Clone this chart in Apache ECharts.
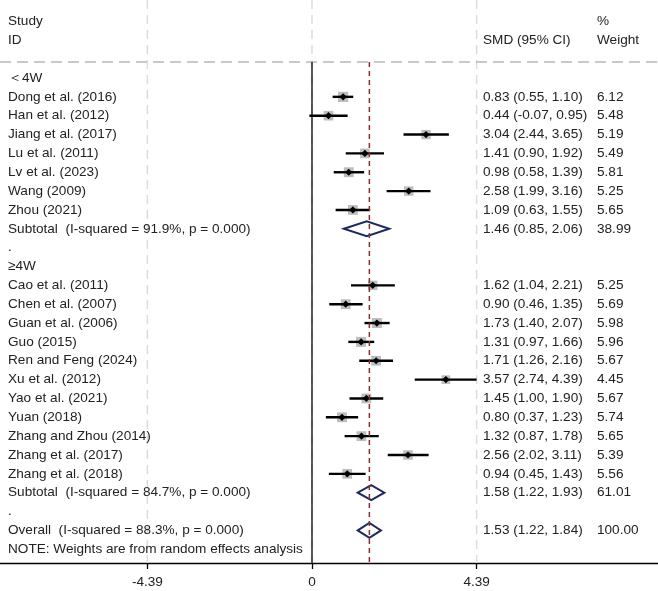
<!DOCTYPE html>
<html>
<head>
<meta charset="utf-8">
<script src="https://cdn.jsdelivr.net/npm/echarts@6/dist/echarts.min.js"></script>
<style>html,body{margin:0;padding:0;background:#fff}#c{width:658px;height:591px}</style>
</head>
<body>
<div id="c"></div>
<script>
// ---- data ----
const g1Label = "\uFF1C4W";
const g1Names = ["Dong et al. (2016)","Han et al. (2012)","Jiang et al. (2017)","Lu et al. (2011)","Lv et al. (2023)","Wang (2009)","Zhou (2021)"];
const g1Est = [0.83,0.44,3.04,1.41,0.98,2.58,1.09];
const g1Lo  = [0.55,-0.07,2.44,0.90,0.58,1.99,0.63];
const g1Hi  = [1.10,0.95,3.65,1.92,1.39,3.16,1.55];
const g1W   = [6.12,5.48,5.19,5.49,5.81,5.25,5.65];
const g1Sub = [1.46,0.85,2.06,38.99];
const g1I2 = "91.9%", g1P = "0.000";

const g2Label = "\u22654W";
const g2Names = ["Cao et al. (2011)","Chen et al. (2007)","Guan et al. (2006)","Guo (2015)","Ren and Feng (2024)","Xu et al. (2012)","Yao et al. (2021)","Yuan (2018)","Zhang and Zhou (2014)","Zhang et al. (2017)","Zhang et al. (2018)"];
const g2Est = [1.62,0.90,1.73,1.31,1.71,3.57,1.45,0.80,1.32,2.56,0.94];
const g2Lo  = [1.04,0.46,1.40,0.97,1.26,2.74,1.00,0.37,0.87,2.02,0.45];
const g2Hi  = [2.21,1.35,2.07,1.66,2.16,4.39,1.90,1.23,1.78,3.11,1.43];
const g2W   = [5.25,5.69,5.98,5.96,5.67,4.45,5.67,5.74,5.65,5.39,5.56];
const g2Sub = [1.58,1.22,1.93,61.01];
const g2I2 = "84.7%", g2P = "0.000";

const overall = [1.53,1.22,1.84,100.00];
const ovI2 = "88.3%", ovP = "0.000";

const xTicks = [-4.39, 0, 4.39];
const headers = {study:"Study", id:"ID", smd:"SMD (95% CI)", pct:"%", weight:"Weight"};
const note = "NOTE: Weights are from random effects analysis";

// ---- build rows ----
const fmt = v => v.toFixed(2);
const ciText = (e,l,h) => fmt(e) + " (" + fmt(l) + ", " + fmt(h) + ")";
const rows = []; // {r, label, smd, w}
const studyPts = []; // [est, lo, hi, w, r]
const diamonds = []; // [est, lo, hi, r]
let r = 0;
function addGroup(label, names, est, lo, hi, w, sub, i2, p) {
  rows.push({r: r++, label: label, smd: "", w: ""});
  names.forEach((n, i) => {
    rows.push({r: r, label: n, smd: ciText(est[i], lo[i], hi[i]), w: fmt(w[i])});
    studyPts.push([est[i], lo[i], hi[i], w[i], r]);
    r++;
  });
  rows.push({r: r, label: "Subtotal  (I-squared = " + i2 + ", p = " + p + ")", smd: ciText(sub[0], sub[1], sub[2]), w: fmt(sub[3])});
  diamonds.push([sub[0], sub[1], sub[2], r]);
  r++;
  rows.push({r: r++, label: ".", smd: "", w: ""});
}
addGroup(g1Label, g1Names, g1Est, g1Lo, g1Hi, g1W, g1Sub, g1I2, g1P);
addGroup(g2Label, g2Names, g2Est, g2Lo, g2Hi, g2W, g2Sub, g2I2, g2P);
rows.push({r: r, label: "Overall  (I-squared = " + ovI2 + ", p = " + ovP + ")", smd: ciText(overall[0], overall[1], overall[2]), w: fmt(overall[3])});
diamonds.push([overall[0], overall[1], overall[2], r]);
r++;
rows.push({r: r, label: note, smd: "", w: ""});
rows.push({r: -3, label: headers.study, smd: "", w: headers.pct});
rows.push({r: -2, label: headers.id, smd: headers.smd, w: headers.weight});

// ---- chart ----
const Y_MIN = -4.138, Y_MAX = 25.73, Y_TOP_LINE = -0.85;
const X_MIN = -8.32, X_MAX = 9.227;
const FONT = '"Liberation Sans", Arial, sans-serif';
const FS = 13.6;
const TXT = '#222222';

const chart = echarts.init(document.getElementById('c'), null, {renderer: 'canvas'});

const series = [];
// gray dashed vertical gridlines
xTicks.forEach(t => {
  series.push({type: 'line', data: [[t, Y_MIN], [t, Y_MAX]], symbol: 'none', silent: true, z: 1,
    lineStyle: {color: '#dcdcdc', width: 1.5, type: [9, 6]}});
});
// top header dashed line
series.push({type: 'line', data: [[X_MIN, Y_TOP_LINE], [X_MAX, Y_TOP_LINE]], symbol: 'none', silent: true, z: 1,
  lineStyle: {color: '#b8b8b8', width: 1.5, type: [11, 6]}});
// zero line
series.push({type: 'line', data: [[0, Y_TOP_LINE], [0, Y_MAX]], symbol: 'none', silent: true, z: 2,
  lineStyle: {color: '#000', width: 1.3}});
// study markers
series.push({
  type: 'custom', z: 3, silent: true, data: studyPts,
  renderItem: function (params, api) {
    const e = api.value(0), lo = api.value(1), hi = api.value(2), w = api.value(3), rr = api.value(4);
    const pe = api.coord([e, rr]), pl = api.coord([lo, rr]), ph = api.coord([hi, rr]);
    const s = 4.1 * Math.sqrt(w), d = 3.6;
    return {type: 'group', children: [
      {type: 'rect', shape: {x: pe[0] - s / 2, y: pe[1] - s / 2, width: s, height: s}, style: {fill: '#bdbdbd'}},
      {type: 'line', shape: {x1: pl[0], y1: pl[1], x2: ph[0], y2: ph[1]}, style: {stroke: '#000', lineWidth: 2.4}},
      {type: 'polygon', shape: {points: [[pe[0] - d, pe[1]], [pe[0], pe[1] - d], [pe[0] + d, pe[1]], [pe[0], pe[1] + d]]}, style: {fill: '#000'}}
    ]};
  }
});
// diamonds
series.push({
  type: 'custom', z: 3, silent: true, data: diamonds,
  renderItem: function (params, api) {
    const e = api.value(0), lo = api.value(1), hi = api.value(2), rr = api.value(3);
    const pe = api.coord([e, rr]), pl = api.coord([lo, rr]), ph = api.coord([hi, rr]);
    const h = 7.5;
    return {type: 'polygon', shape: {points: [[pl[0], pl[1]], [pe[0], pe[1] - h], [ph[0], ph[1]], [pe[0], pe[1] + h]]},
      style: {fill: 'none', stroke: '#1f2a5c', lineWidth: 2, lineJoin: 'miter'}};
  }
});
// overall effect dashed line
series.push({type: 'line', data: [[overall[0], Y_TOP_LINE], [overall[0], Y_MAX]], symbol: 'none', silent: true, z: 4,
  lineStyle: {color: '#8b2d2d', width: 1.5, type: [5, 4]}});
// texts
series.push({
  type: 'custom', z: 5, silent: true, data: rows.map(o => [o.r]),
  renderItem: function (params, api) {
    const o = rows[params.dataIndex];
    const y = api.coord([0, o.r])[1];
    const st = (t, x) => ({type: 'text', x: x, y: y, style: {text: t, fill: TXT, font: FS + 'px ' + FONT, textVerticalAlign: 'middle', textAlign: 'left'}});
    const ch = [st(o.label, 8)];
    if (o.smd) ch.push(st(o.smd, 483));
    if (o.w) ch.push(st(o.w, 597));
    return {type: 'group', children: ch};
  }
});

chart.setOption({
  animation: false,
  backgroundColor: '#fff',
  grid: {left: 0, right: 0, top: 0, bottom: 28, containLabel: false},
  xAxis: {
    type: 'value', min: X_MIN, max: X_MAX,
    splitLine: {show: false},
    axisLine: {show: true, onZero: false, lineStyle: {color: '#000', width: 1.3}},
    axisTick: {show: true, customValues: xTicks, length: 6, lineStyle: {color: '#000', width: 1.3}},
    axisLabel: {show: true, customValues: xTicks, margin: 12, color: TXT, fontSize: FS, fontFamily: FONT,
      formatter: v => String(v)}
  },
  yAxis: {type: 'value', inverse: true, min: Y_MIN, max: Y_MAX, show: false},
  series: series
});
</script>
</body>
</html>
